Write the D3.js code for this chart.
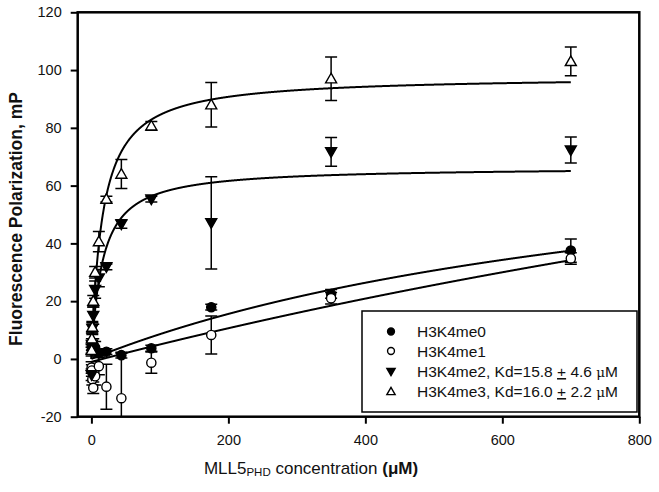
<!DOCTYPE html>
<html><head><meta charset="utf-8">
<script src="https://cdn.jsdelivr.net/npm/d3@7"></script>
<style>
html,body{margin:0;padding:0;background:#fff;}
text{font-family:"Liberation Sans",Arial,sans-serif;}
</style></head>
<body><svg id="c" width="659" height="492"></svg>
<script>
// Concentrations (µM)
const conc = [0.34, 0.68, 1.37, 2.73, 5.47, 10.9, 21.9, 43.75, 87.5, 175, 350, 700];
// Fluorescence polarization (mP) and errors
const me0 = [3, 5, 4, 5, 4, 2, 2.5, 1.3, 3.7, 17.9, 22.5, 37.5];
const me0Err = [1, 1, 1, 2, 2, 1, 1, 1, 1, 1, 1.5, 4];
const me1 = [-3, -4, -7, -10, -6, -2.5, -9.6, -13.6, -1.3, 8.3, 21, 34.8];
const me1Err = [2, 2, 2, 2, 3, 3, 7.8, 15.6, 3.7, 6.6, 2, 2];
const me2 = [-5.5, 5, 10.5, 15, 24, 28, 31.9, 46.7, 55.3, 47.1, 71.7, 72.3];
const me2Err = [2, 2, 2, 3, 3, 3, 1, 1.5, 1, 16, 5, 4.5];
const me3 = [3, 7, 11, 20, 30, 40.6, 55.3, 64, 80.7, 88, 97, 103];
const me3Err = [2, 2, 2, 2, 2, 3.5, 1, 5, 1.5, 7.7, 7.5, 5];
// Fit parameters (hyperbolic binding: y0 + Bmax*x/(Kd+x))
const fitNames = ["me0", "me1", "me2", "me3"];
const fitKd = [900, 3000, 15.8, 16.0];
const fitBmax = [85.7, 186, 66.5, 98];
const fitY0 = [0, -1, 0, 0];
const legendLabels = ["H3K4me0", "H3K4me1", "H3K4me2, Kd=15.8 ", "H3K4me3, Kd=16.0 "];
const legendTail = ["", "", [" 4.6 ", "M"], [" 2.2 ", "M"]];
const xTicks = [0, 200, 400, 600, 800];
const yTicks = [-20, 0, 20, 40, 60, 80, 100, 120];

const svg = d3.select("#c");
const L = 77.7, R = 639.3, T = 12.3, B = 416.7;
const x = d3.scaleLinear().domain([-20, 800]).range([L, R]);
const y = d3.scaleLinear().domain([-20, 120]).range([B, T]);

svg.append("defs").append("clipPath").attr("id", "pc")
  .append("rect").attr("x", L).attr("y", T).attr("width", R - L).attr("height", B - T);

// axes
const ya = svg.append("g").attr("transform", `translate(${L},0)`)
  .call(d3.axisLeft(y).tickValues(yTicks).tickSize(7).tickPadding(9).tickFormat(d => String(d)));
ya.select(".domain").remove();
ya.selectAll("text").attr("font-size", 14.5).attr("fill", "#111");
ya.selectAll("line").attr("stroke-width", 2);
const xa = svg.append("g").attr("transform", `translate(0,${B})`)
  .call(d3.axisBottom(x).tickValues(xTicks).tickSize(7).tickPadding(11).tickFormat(d => String(d)));
xa.select(".domain").remove();
xa.selectAll("text").attr("font-size", 14.5).attr("fill", "#111");
xa.selectAll("line").attr("stroke-width", 2);

const plot = svg.append("g").attr("clip-path", "url(#pc)");

// fitted curves
const line = d3.line().x(d => x(d[0])).y(d => y(d[1])).curve(d3.curveLinear);
const xs = d3.range(0, 700.01, 0.25);
fitNames.forEach((n, i) => {
  const pts = xs.map(v => [v, fitY0[i] + fitBmax[i] * v / (fitKd[i] + v)]);
  plot.append("path").attr("d", line(pts)).attr("fill", "none")
    .attr("stroke", "#000").attr("stroke-width", 2);
});

const series = [
  {v: me0, e: me0Err, sym: "circle", fill: "#000"},
  {v: me1, e: me1Err, sym: "circle", fill: "#fff"},
  {v: me2, e: me2Err, sym: "down", fill: "#000"},
  {v: me3, e: me3Err, sym: "up", fill: "#fff"}
];
function marker(g, sym, fill, cx, cy, k) {
  k = k || 1;
  if (sym === "circle") {
    g.append("circle").attr("cx", cx).attr("cy", cy).attr("r", 4.6 * k)
      .attr("fill", fill).attr("stroke", "#000").attr("stroke-width", 1.4);
  } else {
    const s = 5.5 * k, dir = sym === "up" ? 1 : -1;
    const p = [[cx, cy - dir * s], [cx - s, cy + dir * s * 0.75], [cx + s, cy + dir * s * 0.75]];
    g.append("path").attr("d", "M" + p.map(q => q.join(",")).join("L") + "Z")
      .attr("fill", fill).attr("stroke", "#000").attr("stroke-width", 1.4);
  }
}
series.forEach(s => {
  conc.forEach((c, i) => {
    const cx = x(c), y1 = y(s.v[i] + s.e[i]), y2 = y(s.v[i] - s.e[i]);
    const g = plot.append("g").attr("stroke", "#000").attr("stroke-width", 1.5);
    g.append("line").attr("x1", cx).attr("x2", cx).attr("y1", y1).attr("y2", y2);
    g.append("line").attr("x1", cx - 6).attr("x2", cx + 6).attr("y1", y1).attr("y2", y1);
    g.append("line").attr("x1", cx - 6).attr("x2", cx + 6).attr("y1", y2).attr("y2", y2);
  });
});
series.forEach(s => {
  conc.forEach((c, i) => marker(plot, s.sym, s.fill, x(c), y(s.v[i])));
});

// frame
svg.append("rect").attr("x", L).attr("y", T).attr("width", R - L).attr("height", B - T)
  .attr("fill", "none").attr("stroke", "#000").attr("stroke-width", 2.5);

// legend
const lg = svg.append("g");
lg.append("rect").attr("x", 362).attr("y", 311).attr("width", 275).attr("height", 101)
  .attr("fill", "#fff").attr("stroke", "#000").attr("stroke-width", 1.5);
const rowY = [331.5, 351, 371.5, 391.5];
series.forEach((s, i) => {
  marker(lg, s.sym, s.fill, 391, rowY[i], 0.75);
  const t = lg.append("text").attr("x", 417).attr("y", rowY[i] + 5.5).attr("font-size", 15.5).attr("fill", "#111");
  t.append("tspan").text(legendLabels[i]);
  if (legendTail[i]) {
    t.append("tspan").attr("text-decoration", "underline").text("+");
    t.append("tspan").text(legendTail[i][0]);
    t.append("tspan").attr("font-family", "DejaVu Serif, serif").attr("font-size", 13.5).text("\u03BC");
    t.append("tspan").text(legendTail[i][1]);
  }
});

// axis titles
svg.append("text").attr("transform", "translate(22,219) rotate(-90)")
  .attr("text-anchor", "middle").attr("font-size", 17.5).attr("font-weight", "bold").attr("fill", "#111")
  .text("Fluorescence Polarization, mP");
const xt = svg.append("text").attr("x", 311).attr("y", 474).attr("text-anchor", "middle")
  .attr("font-size", 17).attr("fill", "#111");
xt.append("tspan").text("MLL5");
xt.append("tspan").attr("font-size", 11.5).attr("dy", 2).text("PHD");
xt.append("tspan").attr("dy", -2).text(" concentration ");
xt.append("tspan").attr("font-weight", "bold").text(" (\u03BCM)");
</script></body></html>
